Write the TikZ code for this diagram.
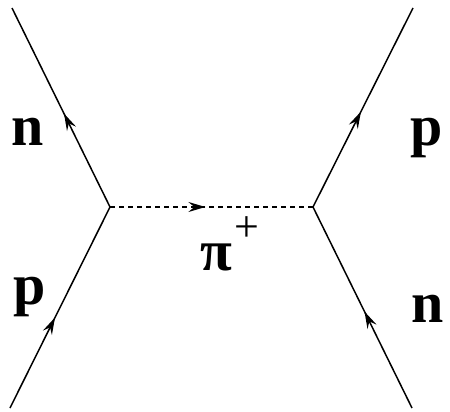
\documentclass[tikz,border=0pt]{standalone}
\usepackage{fontspec}
\setmainfont{Liberation Serif}
\usetikzlibrary{arrows.meta,decorations.markings}

\tikzset{
  fermion/.style={postaction={decorate},
    decoration={markings,mark=at position #1 with {\arrow{>}}}},
  meson/.style={fermion=#1, dash pattern=on 2.5pt off 2pt},
  particle/.style={font=\fontsize{29}{34}\selectfont\bfseries, anchor=base, inner sep=0pt},
}

\begin{document}
\begin{tikzpicture}[x=0.5pt, y=-0.5pt, line width=0.75pt, >={Stealth[length=8.5pt,width=5pt,inset=3pt]}]
  \useasboundingbox (0,0) rectangle (450,412);
  % vertices
  \coordinate (vl) at (110,207);
  \coordinate (vr) at (313,207);
  % external legs
  \coordinate (nw) at (12,8);
  \coordinate (sw) at (10,408);
  \coordinate (ne) at (413,8);
  \coordinate (se) at (412,408);

  \draw[fermion=0.47] (vl) -- (nw);
  \draw[fermion=0.45] (sw) -- (vl);
  \draw[fermion=0.48] (vr) -- (ne);
  \draw[fermion=0.48] (se) -- (vr);
  \draw[meson=0.47] (vl) -- (vr);

  \node[particle] (nleft) at (28,145) {n};
  \node[particle] (pleft) at (30,304) {p};
  \node[particle] (pright) at (427,145) {p};
  \node[particle] (nright) at (428,322) {n};
  \node[particle] (pion) at (230,270) {π\hspace{1pt}\raisebox{0.5em}{\fontsize{22}{26}\selectfont\mdseries +}};
\end{tikzpicture}
\end{document}
